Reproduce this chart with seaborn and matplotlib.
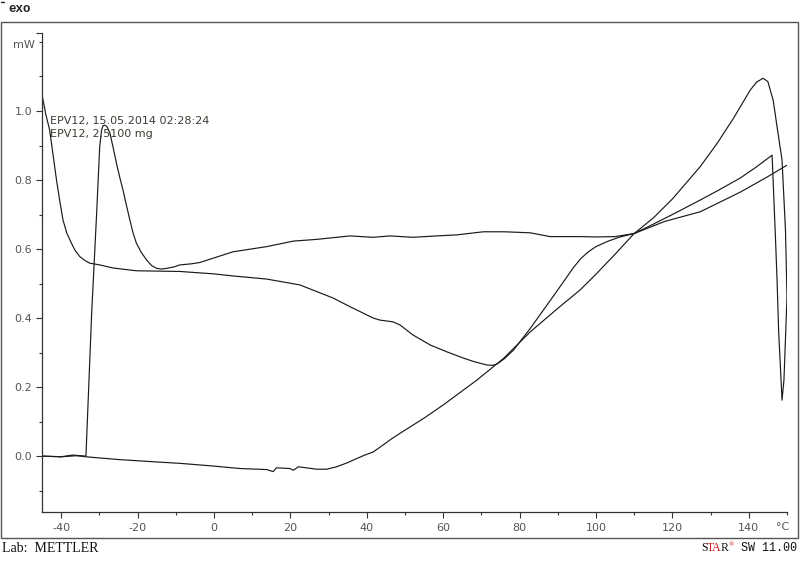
import matplotlib
matplotlib.use("Agg")
import matplotlib.pyplot as plt
import seaborn as sns
import pandas as pd
from matplotlib.patches import Rectangle
from matplotlib.lines import Line2D
from matplotlib.ticker import FixedLocator, MultipleLocator

# ---- data (temperature in °C, heat flow in mW) ----
heat1_T = [-44.9, -44.0, -43.0, -41.2, -40.3, -39.5, -38.5, -37.3, -36.4, -35.1, -33.8, -32.5,
           -29.9, -26.4, -20.3, -8.9, 0.0, 5.0, 13.8, 22.5, 31.2, 35.6, 41.7, 43.5, 46.9, 48.7,
           52.1, 56.6, 61.0, 65.3, 68.0, 71.4, 73.0, 74.1, 76.0, 78.4, 82.8, 87.2, 91.5, 94.0,
           96.0, 98.0, 100.0, 103.0, 106.0, 110.0, 115.0, 120.0, 127.3, 131.7, 136.0, 140.4, 142.0,
           143.7, 145.0, 146.4, 147.4, 148.7, 149.6, 150.0]
heat1_v = [1.041, 0.990, 0.945, 0.800, 0.736, 0.684, 0.646, 0.617, 0.597, 0.578, 0.567, 0.559,
           0.554, 0.545, 0.537, 0.535, 0.528, 0.522, 0.513, 0.496, 0.458, 0.433, 0.400, 0.394, 0.389, 0.380,
           0.351, 0.322, 0.302, 0.284, 0.274, 0.264, 0.263, 0.267, 0.282, 0.307, 0.370, 0.438, 0.505, 0.545,
           0.572, 0.592, 0.607, 0.622, 0.634, 0.645, 0.690, 0.745, 0.839, 0.906, 0.979, 1.061, 1.083,
           1.095, 1.085, 1.030, 0.954, 0.858, 0.655, 0.461]

cool_T = [150.0, 149.2, 148.7, 147.8, 147.4, 147.0, 146.1, 142.0, 137.8, 132.0, 127.3, 120.0, 115.0,
          110.0, 105.0, 100.0, 95.9, 88.0, 82.8, 76.0, 70.5, 63.6, 58.3, 52.1, 46.1, 41.7, 35.6,
          26.9, 20.8, 13.8, 5.0, -3.7, -6.0, -8.9, -10.5, -12.4, -13.7, -15.0, -16.3, -17.6, -19.0,
          -20.3, -21.2, -22.0, -22.9, -23.8, -24.7, -25.5, -26.4, -27.2, -28.0, -28.6, -29.0,
          -29.4, -29.9, -30.7, -32.0, -33.5, -37.0, -40.0, -45.0]
cool_v = [0.461, 0.220, 0.162, 0.365, 0.510, 0.626, 0.872, 0.838, 0.806, 0.770, 0.742, 0.700, 0.672,
          0.645, 0.636, 0.635, 0.636, 0.636, 0.647, 0.650, 0.650, 0.641, 0.638, 0.634, 0.638, 0.634, 0.638,
          0.628, 0.623, 0.607, 0.592, 0.561, 0.557, 0.554, 0.548, 0.544, 0.542, 0.544, 0.552, 0.568, 0.590,
          0.617, 0.648, 0.684, 0.727, 0.771, 0.810, 0.848, 0.895, 0.935, 0.955, 0.959, 0.958,
          0.945, 0.896, 0.703, 0.414, 0.000, 0.003, -0.002, 0.000]

heat2_T = [-45.0, -40.0, -36.0, -33.5, -25.0, -15.0, -8.9, 0.0, 6.8, 13.8, 15.5, 16.4, 19.9, 20.8,
           22.1, 26.9, 29.5, 32.1, 35.0, 37.4, 39.5, 41.7, 44.0, 46.5, 48.7, 55.0, 60.0, 68.8, 75.8,
           82.8, 90.0, 95.9, 100.0, 105.0, 110.0, 118.0, 127.3, 137.8, 145.0, 150.0]
heat2_v = [0.000, -0.002, 0.001, -0.002, -0.010, -0.017, -0.021, -0.029, -0.036, -0.039, -0.045, -0.034,
           -0.036, -0.041, -0.031, -0.038, -0.038, -0.031, -0.019, -0.007, 0.003, 0.012, 0.030, 0.050,
           0.066, 0.110, 0.148, 0.220, 0.283, 0.360, 0.428, 0.482, 0.527, 0.585, 0.645, 0.680, 0.708,
           0.765, 0.810, 0.843]

x_major = [-40, -20, 0, 20, 40, 60, 80, 100, 120, 140]
y_major = [0.0, 0.2, 0.4, 0.6, 0.8, 1.0]
legend_lines = ["EPV12, 15.05.2014 02:28:24", "EPV12, 2.5100 mg"]

frames = []
for name, T, v in [("heat1", heat1_T, heat1_v), ("cool", cool_T, cool_v), ("heat2", heat2_T, heat2_v)]:
    frames.append(pd.DataFrame({"T": T, "v": v, "seg": name}))
df = pd.concat(frames, ignore_index=True)

# ---- figure ----
sns.set_style("ticks")
W, H = 800, 562
fig = plt.figure(figsize=(W / 100, H / 100), dpi=100)
fig.patch.set_facecolor("white")

def fx(px):
    return px / W

def fy(py):
    return 1 - py / H

ax_l, ax_r, ax_t, ax_b = 42, 787, 33, 512
ax = fig.add_axes([fx(ax_l), fy(ax_b), (ax_r - ax_l) / W, (ax_b - ax_t) / H])
ax.set_facecolor("white")

sns.lineplot(data=df, x="T", y="v", units="seg", estimator=None, sort=False,
             color="#1a1a1a", linewidth=0.85, ax=ax, legend=False)

ax.set_xlim(-45, 150)
ax.set_ylim(-0.162, 1.226)
ax.set_xlabel("")
ax.set_ylabel("")

for s in ["top", "right"]:
    ax.spines[s].set_visible(False)
for s in ["left", "bottom"]:
    ax.spines[s].set_color("#333333")
    ax.spines[s].set_linewidth(0.9)

ax.xaxis.set_major_locator(FixedLocator(x_major))
ax.xaxis.set_minor_locator(MultipleLocator(10))
ax.set_xticklabels([str(t) for t in x_major])
ytick_vals = y_major + [1.226]
ax.yaxis.set_major_locator(FixedLocator(ytick_vals))
ax.set_yticklabels([f"{t:.1f}" for t in y_major] + [""])
ax.yaxis.set_minor_locator(MultipleLocator(0.1))

ax.tick_params(axis="both", which="major", length=4, width=0.8, color="#333333",
               labelsize=8, labelcolor="#555555", direction="out")
ax.tick_params(axis="both", which="minor", length=2.5, width=0.8, color="#333333", direction="out")
ax.tick_params(axis="x", which="major", pad=4)
ax.tick_params(axis="y", which="major", pad=3)

# ---- annotations ----
fig.text(fx(50), fy(121), legend_lines[0], fontsize=8, color="#3c3c30", ha="left", va="center")
fig.text(fx(50), fy(134), legend_lines[1], fontsize=8, color="#3c3c30", ha="left", va="center")
fig.text(fx(24), fy(45), "mW", fontsize=8, color="#555555", ha="center", va="center")
fig.text(fx(783), fy(527), "°C", fontsize=8, color="#555555", ha="center", va="center")
fig.text(fx(8), fy(9), "exo", fontsize=9, family="Liberation Mono", weight="bold",
         color="#222222", ha="left", va="center")
fig.add_artist(Line2D([fx(1), fx(4)], [fy(2), fy(2)], transform=fig.transFigure,
                      color="#222222", linewidth=1.0))

# outer frame
fig.patches.append(Rectangle((fx(1), fy(538)), fx(798) - fx(1), fy(22) - fy(538),
                             transform=fig.transFigure, fill=False, edgecolor="#555555",
                             linewidth=1.0))

serif = "Liberation Serif"
fig.text(fx(2), fy(548), "Lab:  METTLER", fontsize=10, family=serif, color="#111111",
         ha="left", va="center")

# "STAR®  SW 11.00" footer, pieces placed side by side
fig.text(fx(701), fy(548), "S", fontsize=8.5, family=serif, color="#111111", ha="left", va="center")
fig.text(fx(706.6), fy(548), "TA", fontsize=8.5, family=serif, color="#cc1111", ha="left", va="center")
fig.text(fx(721.0), fy(548), "R", fontsize=8.5, family=serif, color="#111111", ha="left", va="center")
fig.text(fx(728.8), fy(545), "®", fontsize=5, family=serif, color="#cc1111", ha="left", va="center")
fig.text(fx(797), fy(548), "SW 11.00", fontsize=8.5, family="Liberation Mono", color="#111111",
         ha="right", va="center")

fig.savefig("out.png", dpi=100, facecolor="white")
